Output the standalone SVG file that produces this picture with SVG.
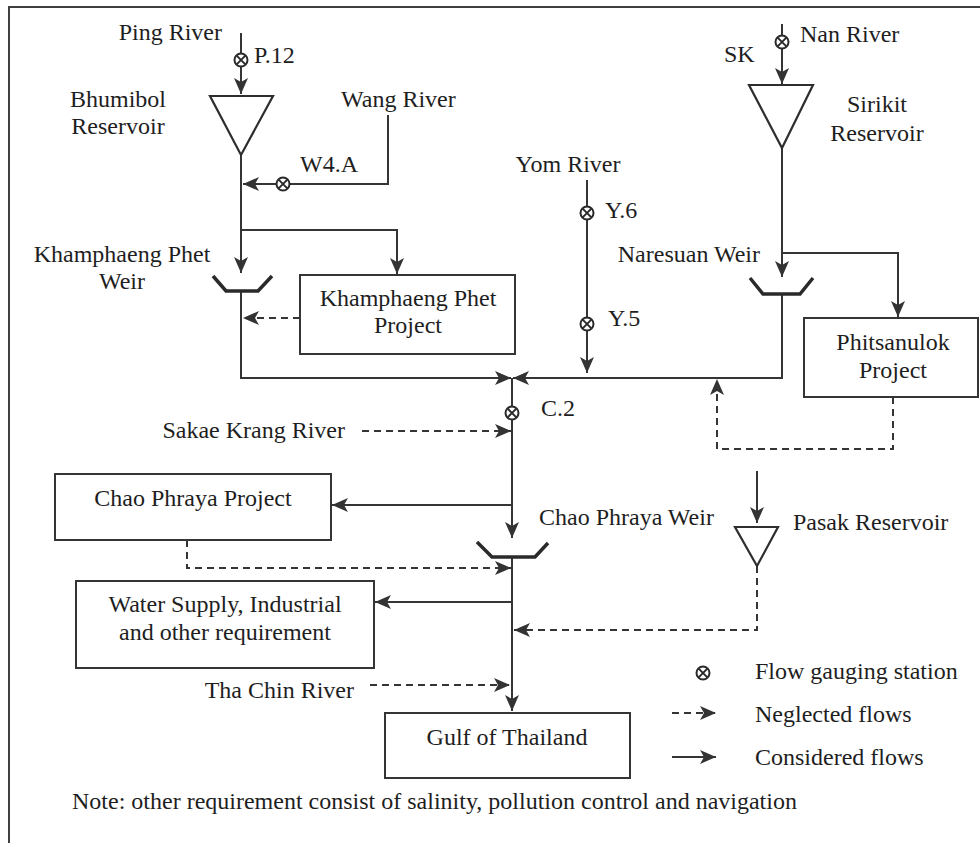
<svg xmlns="http://www.w3.org/2000/svg" xmlns:xlink="http://www.w3.org/1999/xlink" width="980" height="843" viewBox="0 0 980 843">
<style>
text{font-family:"Liberation Serif","Times New Roman",serif;font-size:24px;fill:#1e1e1e}
.ln{fill:none;stroke:#353535;stroke-width:2}
.ds{fill:none;stroke:#353535;stroke-width:2;stroke-dasharray:7 5}
.box{fill:#fff;stroke:#353535;stroke-width:2}
.tri{fill:#fff;stroke:#2e2e2e;stroke-width:2.2}
.weir{fill:none;stroke:#2a2a2a;stroke-width:3.5;stroke-linejoin:miter}
.mid{text-anchor:middle}
.end{text-anchor:end}
</style>
<defs>
<marker id="ah" markerUnits="userSpaceOnUse" markerWidth="17" markerHeight="15" viewBox="0 0 17 15" refX="16" refY="7.5" orient="auto">
<path d="M0,0.5 L16,7.5 L0,14.5 L4,7.5 Z" fill="#333"/>
</marker>
<g id="gauge">
<circle r="6.5" fill="#fff" stroke="#2a2a2a" stroke-width="2"/>
<path d="M-4.6,-4.6 L4.6,4.6 M4.6,-4.6 L-4.6,4.6" stroke="#2a2a2a" stroke-width="2"/>
</g>
</defs>
<rect width="980" height="843" fill="#fff"/>
<path d="M9,843 V7 H980" fill="none" stroke="#404040" stroke-width="2"/>

<g id="connectors">
<path class="ln" d="M241,33 V94" marker-end="url(#ah)"/>
<path class="ln" d="M388,115 V184 H243" marker-end="url(#ah)"/>
<path class="ln" d="M241,155 V273" marker-end="url(#ah)"/>
<path class="ln" d="M241,230 H397 V274" marker-end="url(#ah)"/>
<path class="ln" d="M241,291 V378 H511" marker-end="url(#ah)"/>
<path class="ds" d="M300,318 H243" marker-end="url(#ah)"/>
<path class="ln" d="M587,180 V373" marker-end="url(#ah)"/>
<path class="ln" d="M782,24 V84" marker-end="url(#ah)"/>
<path class="ln" d="M782,148 V277" marker-end="url(#ah)"/>
<path class="ln" d="M782,253 H898 V317" marker-end="url(#ah)"/>
<path class="ln" d="M782,294 V378 H513" marker-end="url(#ah)"/>
<path class="ds" d="M893,397 V449 H717 V379" marker-end="url(#ah)"/>
<path class="ln" d="M512,378 V538" marker-end="url(#ah)"/>
<path class="ds" d="M362,431 H511" marker-end="url(#ah)"/>
<path class="ln" d="M512,505 H332" marker-end="url(#ah)"/>
<path class="ds" d="M187,540 V568 H511" marker-end="url(#ah)"/>
<path class="ln" d="M512,557 V711" marker-end="url(#ah)"/>
<path class="ln" d="M512,602 H375" marker-end="url(#ah)"/>
<path class="ds" d="M757,566 V630 H514" marker-end="url(#ah)"/>
<path class="ds" d="M370,685 H510" marker-end="url(#ah)"/>
<path class="ln" d="M757,471 V523" marker-end="url(#ah)"/>
</g>

<g id="ping-river"><text x="222" y="40" class="end">Ping River</text></g>
<g id="gauge-p12"><use xlink:href="#gauge" x="241" y="60"/><text x="254" y="63">P.12</text></g>
<g id="bhumibol"><polygon class="tri" points="210,96 273,96 241,155"/><text x="118" y="107" class="mid">Bhumibol</text><text x="118" y="134" class="mid">Reservoir</text></g>
<g id="wang-river"><text x="341" y="107">Wang River</text></g>
<g id="gauge-w4a"><use xlink:href="#gauge" x="283" y="184"/><text x="300" y="172">W4.A</text></g>
<g id="kp-weir"><polyline class="weir" points="213,276 226,291 258,291 272,276"/><text x="122" y="262" class="mid">Khamphaeng Phet</text><text x="122" y="289" class="mid">Weir</text></g>
<g id="kp-project"><rect class="box" x="300" y="275" width="215" height="79"/><text x="408" y="306" class="mid">Khamphaeng Phet</text><text x="408" y="333" class="mid">Project</text></g>
<g id="yom-river"><text x="568" y="172" class="mid">Yom River</text></g>
<g id="gauge-y6"><use xlink:href="#gauge" x="587" y="213"/><text x="605" y="218">Y.6</text></g>
<g id="gauge-y5"><use xlink:href="#gauge" x="587" y="324"/><text x="608" y="326">Y.5</text></g>
<g id="nan-river"><text x="800" y="42">Nan River</text></g>
<g id="gauge-sk"><use xlink:href="#gauge" x="782" y="42"/><text x="724" y="62">SK</text></g>
<g id="sirikit"><polygon class="tri" points="749,85 813,85 782,148"/><text x="877" y="112" class="mid">Sirikit</text><text x="877" y="141" class="mid">Reservoir</text></g>
<g id="naresuan-weir"><polyline class="weir" points="750,278 763,294 800,294 813,278"/><text x="760" y="262" class="end">Naresuan Weir</text></g>
<g id="phitsanulok"><rect class="box" x="804" y="318" width="174" height="79"/><text x="893" y="350" class="mid">Phitsanulok</text><text x="893" y="378" class="mid">Project</text></g>
<g id="gauge-c2"><use xlink:href="#gauge" x="512" y="413"/><text x="541" y="416">C.2</text></g>
<g id="sakae-krang"><text x="345" y="438" class="end">Sakae Krang River</text></g>
<g id="cp-project"><rect class="box" x="55" y="474" width="276" height="66"/><text x="193" y="506" class="mid">Chao Phraya Project</text></g>
<g id="cp-weir"><polyline class="weir" points="477,542 492,557 535,557 548,543"/><text x="539" y="525">Chao Phraya Weir</text></g>
<g id="pasak"><polygon class="tri" points="735,527 778,527 757,566"/><text x="793" y="530">Pasak Reservoir</text></g>
<g id="water-supply"><rect class="box" x="76" y="581" width="298" height="87"/><text x="225" y="612" class="mid">Water Supply, Industrial</text><text x="225" y="640" class="mid">and other requirement</text></g>
<g id="tha-chin"><text x="354" y="698" class="end">Tha Chin River</text></g>
<g id="gulf"><rect class="box" x="385" y="713" width="245" height="65"/><text x="507" y="745" class="mid">Gulf of Thailand</text></g>
<g id="legend">
<use xlink:href="#gauge" x="703" y="673"/>
<text x="755" y="679">Flow gauging station</text>
<path class="ds" d="M672,713 H716" marker-end="url(#ah)"/>
<text x="755" y="722">Neglected flows</text>
<path class="ln" d="M672,757 H716" marker-end="url(#ah)"/>
<text x="755" y="765">Considered flows</text>
</g>
<g id="note"><text x="72" y="809">Note: other requirement consist of salinity, pollution control and navigation</text></g>
</svg>
